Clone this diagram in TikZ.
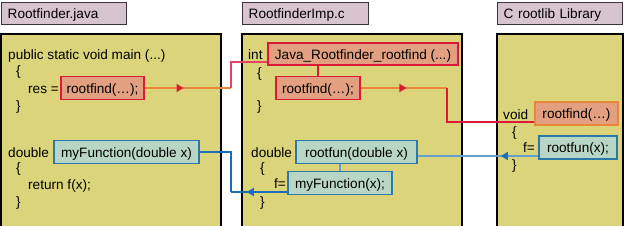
\documentclass[tikz,border=0pt]{standalone}
\usepackage{fontspec}
\setmainfont{Liberation Sans}
\usetikzlibrary{arrows.meta,decorations.markings}

\definecolor{pannellofill}{RGB}{220,212,122}
\definecolor{titolofill}{RGB}{216,196,206}
\definecolor{titolobordo}{RGB}{60,50,60}
\definecolor{rossofill}{RGB}{226,160,128}
\definecolor{rossobordo}{RGB}{220,25,55}
\definecolor{arancio}{RGB}{232,135,55}
\definecolor{rosa}{RGB}{230,65,105}
\definecolor{blufill}{RGB}{184,214,196}
\definecolor{blubordo}{RGB}{45,120,170}
\definecolor{bluscuro}{RGB}{25,110,185}
\definecolor{bluchiaro}{RGB}{100,160,205}

\tikzset{
	testo/.style={font=\fontsize{13.6}{16}\selectfont, text height=10pt, text depth=0pt},
	codice/.style={testo, anchor=west, inner sep=0pt},
	titolo/.style={testo, draw=titolobordo, fill=titolofill, line width=1.4pt, anchor=north west,
		minimum height=22pt, inner xsep=6pt, align=left},
	pannello/.style={draw=black, fill=pannellofill, line width=1.3pt},
	rbox/.style={testo, draw=rossobordo, fill=rossofill, line width=1.4pt, minimum height=23pt, inner xsep=4pt},
	bbox/.style={testo, draw=blubordo, fill=blufill, line width=1.4pt, minimum height=23pt, inner xsep=4pt},
	filo/.style={line width=2pt},
	freccia/.style 2 args={postaction={decorate}, decoration={markings,
		mark=at position #1 with {\arrow{Triangle[length=7pt,width=8pt,color=#2]}}}}
}

\begin{document}
\begin{tikzpicture}[x=1pt, y=-1pt]
	\useasboundingbox (0,0) rectangle (624,225);
	
	% Titoli dei file
	\node[titolo, text width=113pt] (tjava) at (1,2) {Rootfinder.java};
	\node[titolo, text width=114pt] (timp) at (242,2) {RootfinderImp.c};
	\node[titolo, text width=113pt] (tlib) at (497,2) {C rootlib Library};
	
	% Pannelli
	\draw[pannello] (1,34) rectangle (221,227);
	\draw[pannello] (242,34) rectangle (462,227);
	\draw[pannello] (497,34) rectangle (623,227);
	
	% Rootfinder.java
	\node[codice] (jmain) at (8,54) {public static void main (...)};
	\node[codice] (ja1) at (16,70.5) {\{};
	\node[codice] (jres) at (28,88) {res =};
	\node[rbox, minimum width=83pt] (jrf) at (102.5,88) {rootfind(…);};
	\node[codice] (jc1) at (16,105) {\}};
	\node[codice] (jdbl) at (8,152) {double};
	\node[bbox, minimum width=145pt] (jmf) at (126.5,152) {myFunction(double x)};
	\node[codice] (ja2) at (16,167.5) {\{};
	\node[codice] (jret) at (28,184) {return f(x);};
	\node[codice] (jc2) at (16,201) {\}};
	
	% RootfinderImp.c
	\node[codice] (cint) at (248,54.5) {int};
	\node[rbox, minimum width=190pt, minimum height=22pt] (jrr) at (363,54) {Java\_Rootfinder\_rootfind (...)};
	\node[codice] (ca1) at (257,72.5) {\{};
	\node[rbox, minimum width=84pt] (crf) at (318,88) {rootfind(…);};
	\node[codice] (cc1) at (257,105) {\}};
	\node[codice] (cdbl) at (251,152) {double};
	\node[bbox, minimum width=121pt] (crt) at (356.5,152) {rootfun(double x)};
	\node[codice] (ca2) at (260,167.5) {\{};
	\node[codice] (cf) at (274,183) {f=};
	\node[bbox, minimum width=104pt] (cmf) at (340,183) {myFunction(x);};
	\node[codice] (cc2) at (260,201) {\}};
	
	% C rootlib Library
	\node[codice] (lvoid) at (503,114) {void};
	\node[rbox, draw=arancio, minimum width=83pt] (lrf) at (576.5,113.5) {rootfind(…)};
	\node[codice] (la1) at (512,131) {\{};
	\node[codice] (lf) at (523,147) {f=};
	\node[bbox, minimum width=78pt] (lrt) at (578,147.5) {rootfun(x);};
	\node[codice] (lc1) at (512,164.5) {\}};
	
	% Punti di piegatura
	\coordinate (jr1) at (231,88);
	\coordinate (jr2) at (231,62);
	\coordinate (cr1) at (447,88);
	\coordinate (cr2) at (447,122);
	\coordinate (jb1) at (231,192);
	\coordinate (jb2) at (231,152);
	\coordinate (lb) at (500,156);
	
	% Chiamate (rosso)
	\draw[filo, arancio, freccia={0.45}{rossobordo}] (jrf.east) -- (jr1);
	\draw[filo, rosa] (jr1) -- (jr2) -- (jr2 -| jrr.west);
	\draw[filo, rossobordo] (crf.north) -- (crf.north |- jrr.south);
	\draw[filo, arancio, freccia={0.53}{rossobordo}] (crf.east) -- (cr1);
	\draw[filo, rossobordo] (cr1) -- (cr2) -- (cr2 -| lrf.west);
	
	% Callback (blu)
	\draw[filo, bluchiaro, freccia={0.31}{bluscuro}] (lb -| lrt.west) -- (lb -| crt.east);
	\draw[filo, bluchiaro] (cmf.north) -- (cmf.north |- crt.south);
	\draw[filo, bluscuro, freccia={0.72}{bluscuro}] (jb1 -| cmf.west) -- (jb1);
	\draw[filo, bluscuro] (jb1) -- (jb2) -- (jmf.east);
	
\end{tikzpicture}
\end{document}
